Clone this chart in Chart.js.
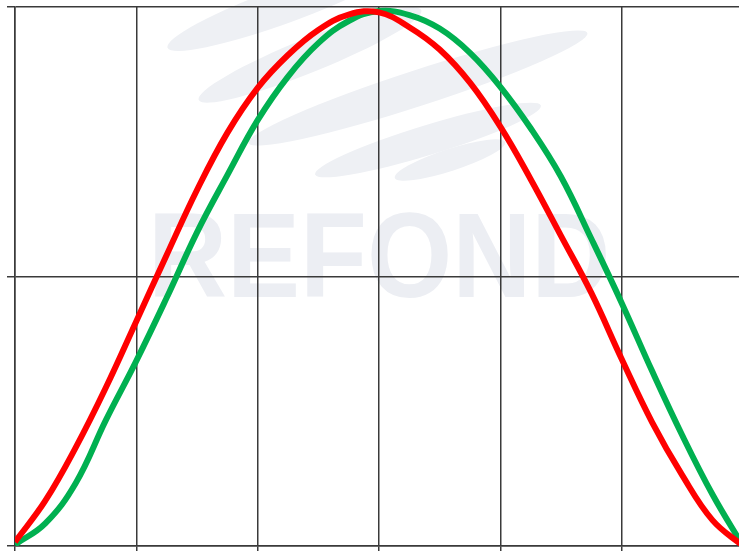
<!DOCTYPE html>
<html>
<head>
<meta charset="utf-8">
<script src="https://cdn.jsdelivr.net/npm/chart.js@4.4.1/dist/chart.umd.min.js"></script>
<style>
  html, body { margin: 0; padding: 0; background: #fff; overflow: hidden; }
  #wrap { width: 745px; height: 551px; }
</style>
</head>
<body>
<div id="wrap"><canvas id="grafico" width="745" height="551"></canvas></div>
<script>
// x positions (shared by both curves)
let posX = [0, 0.25, 0.5, 0.75, 1, 1.25, 1.5, 1.75, 2, 2.25, 2.5, 2.75, 3,
            3.25, 3.5, 3.75, 4, 4.25, 4.5, 4.75, 5, 5.25, 5.5, 5.75, 6]

// red curve
let curvaRoja = [0.015, 0.168, 0.365, 0.589, 0.834, 1.080, 1.321, 1.533, 1.700, 1.822, 1.915, 1.972, 1.980,
                 1.925, 1.842, 1.719, 1.556, 1.361, 1.151, 0.939, 0.694, 0.460, 0.262, 0.095, 0]

// green curve
let curvaVerde = [0.005, 0.084, 0.233, 0.468, 0.687, 0.921, 1.164, 1.376, 1.580, 1.742, 1.866, 1.948, 1.985,
                  1.970, 1.920, 1.830, 1.704, 1.550, 1.370, 1.140, 0.902, 0.650, 0.410, 0.190, 0]

let ticksX = [0, 1, 2, 3, 4, 5, 6]
let ticksY = [0, 1, 2]

const marcaAgua = {
  id: 'marcaAgua',
  beforeDraw(chart) {
    const ctx = chart.ctx
    ctx.save()
    ctx.fillStyle = '#eef0f4'
    // swooshes of the logo
    const trazos = [
      [285, 5, 125, 18, -20],
      [310, 55, 120, 17, -22],
      [418, 88, 178, 18, -18],
      [428, 140, 118, 15, -17],
      [450, 160, 58, 11, -18]
    ]
    trazos.forEach(t => {
      ctx.beginPath()
      ctx.ellipse(t[0], t[1], t[2], t[3], t[4] * Math.PI / 180, 0, Math.PI * 2)
      ctx.fill()
    })
    // text
    ctx.fillStyle = '#eceef3'
    ctx.font = 'bold 121px "Liberation Sans", Arial, sans-serif'
    ctx.textBaseline = 'alphabetic'
    ctx.translate(148, 297)
    ctx.scale(0.905, 1)
    ctx.fillText('REFOND', 0, 0)
    ctx.restore()
  }
}

const datos = {
  labels: posX,
  datasets: [
    {
      label: 'rojo',
      data: posX.map((x, i) => ({ x: x, y: curvaRoja[i] })),
      borderColor: '#ff0000',
      borderWidth: 6,
      pointRadius: 0,
      tension: 0.4,
      fill: false
    },
    {
      label: 'verde',
      data: posX.map((x, i) => ({ x: x, y: curvaVerde[i] })),
      borderColor: '#00b050',
      borderWidth: 6,
      pointRadius: 0,
      tension: 0.4,
      fill: false
    }
  ]
}

const config = {
  type: 'line',
  data: datos,
  options: {
    responsive: false,
    animation: false,
    layout: { padding: { left: 7, top: 7, right: 2, bottom: 0 } },
    plugins: { legend: { display: false }, tooltip: { enabled: false } },
    scales: {
      x: {
        type: 'linear',
        min: ticksX[0],
        max: ticksX[ticksX.length - 1],
        afterBuildTicks: s => { s.ticks = ticksX.map(v => ({ value: v })) },
        ticks: { display: false },
        grid: { color: '#3a3a3a', lineWidth: 1.5, tickLength: 5 },
        border: { color: '#3a3a3a', width: 1.5 }
      },
      y: {
        min: ticksY[0],
        max: ticksY[ticksY.length - 1],
        afterBuildTicks: s => { s.ticks = ticksY.map(v => ({ value: v })) },
        ticks: { display: false },
        grid: { color: '#3a3a3a', lineWidth: 1.5, tickLength: 8 },
        border: { color: '#3a3a3a', width: 1.5 }
      }
    }
  },
  plugins: [marcaAgua]
}

const grafico = new Chart(document.getElementById('grafico'), config)
</script>
</body>
</html>
